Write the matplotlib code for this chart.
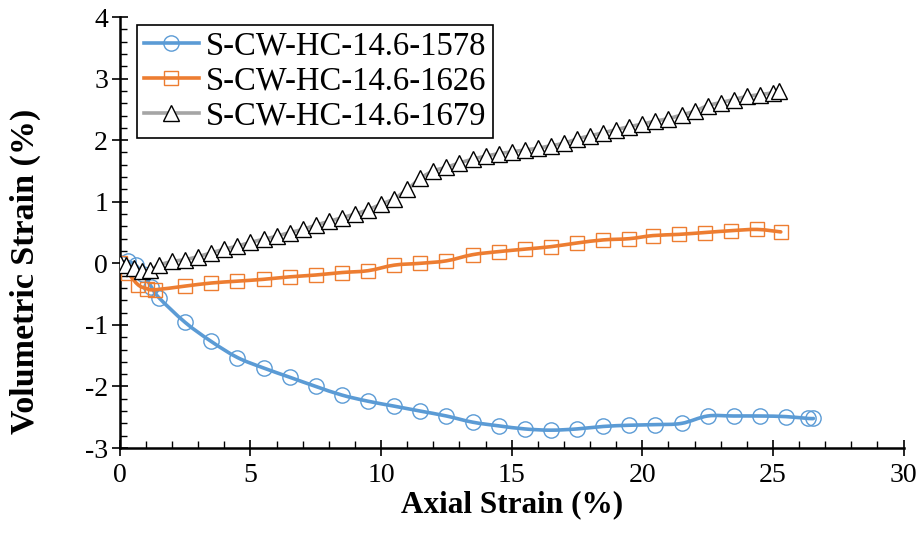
import matplotlib
matplotlib.use("Agg")
import matplotlib.pyplot as plt
import numpy as np
from matplotlib.path import Path
from matplotlib.patches import PathPatch
from matplotlib.lines import Line2D
from matplotlib.ticker import MultipleLocator

plt.rcParams['font.family'] = ['Liberation Serif', 'DejaVu Serif']
plt.rcParams['axes.unicode_minus'] = False

# ---- data ----
labels = ["S-CW-HC-14.6-1578", "S-CW-HC-14.6-1626", "S-CW-HC-14.6-1679"]

x_1578 = [0.0, 0.3, 0.6, 0.9, 1.2, 1.5, 2.5, 3.5, 4.5, 5.5, 6.5, 7.5, 8.5, 9.5, 10.5,
          11.5, 12.5, 13.5, 14.5, 15.5, 16.5, 17.5, 18.5, 19.5, 20.5, 21.5, 22.5,
          23.5, 24.5, 25.5, 26.35, 26.55]
y_1578 = [0.0, 0.03, -0.03, -0.18, -0.38, -0.56, -0.96, -1.27, -1.53, -1.70, -1.85,
          -2.00, -2.14, -2.24, -2.32, -2.40, -2.48, -2.58, -2.64, -2.69, -2.71, -2.69,
          -2.65, -2.63, -2.62, -2.60, -2.48, -2.48, -2.48, -2.49, -2.52, -2.52]

x_1626 = [0.0, 0.32, 0.7, 1.02, 1.34, 2.5, 3.5, 4.5, 5.5, 6.5, 7.5, 8.5, 9.5, 10.5,
          11.5, 12.5, 13.5, 14.5, 15.5, 16.5, 17.5, 18.5, 19.5, 20.4, 21.4, 22.4,
          23.4, 24.4, 25.3]
y_1626 = [0.0, -0.16, -0.35, -0.41, -0.43, -0.37, -0.32, -0.29, -0.26, -0.22, -0.19,
          -0.15, -0.12, -0.03, 0.0, 0.04, 0.14, 0.19, 0.23, 0.27, 0.33, 0.38, 0.40,
          0.45, 0.47, 0.50, 0.53, 0.55, 0.51]

x_1679 = [0.0, 0.25, 0.55, 0.85, 1.15, 1.5, 2.0, 2.5, 3.0, 3.5, 4.0, 4.5, 5.0, 5.5,
          6.0, 6.5, 7.0, 7.5, 8.0, 8.5, 9.0, 9.5, 10.0, 10.5, 11.0, 11.5, 12.0, 12.5,
          13.0, 13.5, 14.0, 14.5, 15.0, 15.5, 16.0, 16.5, 17.0, 17.5, 18.0, 18.5, 19.0,
          19.5, 20.0, 20.5, 21.0, 21.5, 22.0, 22.5, 23.0, 23.5, 24.0, 24.5, 25.0, 25.25]
y_1679 = [0.0, -0.03, -0.08, -0.12, -0.11, -0.03, 0.03, 0.06, 0.11, 0.17, 0.23, 0.28,
          0.34, 0.39, 0.44, 0.50, 0.55, 0.62, 0.68, 0.74, 0.80, 0.87, 0.96, 1.05,
          1.20, 1.38, 1.50, 1.56, 1.63, 1.69, 1.74, 1.78, 1.81, 1.84, 1.87, 1.91, 1.95,
          2.02, 2.07, 2.12, 2.17, 2.22, 2.26, 2.31, 2.35, 2.41, 2.47, 2.56, 2.61,
          2.66, 2.71, 2.74, 2.77, 2.80]

x_ticks = [0, 5, 10, 15, 20, 25, 30]
y_ticks = [-3, -2, -1, 0, 1, 2, 3, 4]


def smooth_path(xs, ys):
    xs = np.asarray(xs, float)
    ys = np.asarray(ys, float)
    n = len(xs)
    verts = [(xs[0], ys[0])]
    codes = [Path.MOVETO]
    for i in range(n - 1):
        i0 = max(i - 1, 0)
        i3 = min(i + 2, n - 1)
        c1 = (xs[i] + (xs[i + 1] - xs[i0]) / 6.0, ys[i] + (ys[i + 1] - ys[i0]) / 6.0)
        c2 = (xs[i + 1] - (xs[i3] - xs[i]) / 6.0, ys[i + 1] - (ys[i3] - ys[i]) / 6.0)
        verts += [c1, c2, (xs[i + 1], ys[i + 1])]
        codes += [Path.CURVE4] * 3
    return Path(verts, codes)


fig = plt.figure(figsize=(9.22, 5.42), dpi=100)
ax = fig.add_axes([0.130, 0.1734, 0.850, 0.7952])

series = [
    (x_1578, y_1578, '#5B9BD5', 'o', 'none', '#5B9BD5', 11),
    (x_1626, y_1626, '#ED7D31', 's', 'none', '#ED7D31', 10.5),
    (x_1679, y_1679, '#A5A5A5', '^', 'white', 'black', 11),
]
handles = []
z = 2
for (xs, ys, col, mk, mfc, mec, ms), lab in zip(series, labels):
    patch = PathPatch(smooth_path(xs, ys), facecolor='none', edgecolor=col,
                      lw=2.6, capstyle='round', joinstyle='round', zorder=z)
    ax.add_patch(patch)
    ax.plot(xs, ys, linestyle='none', marker=mk, ms=ms, mfc=mfc, mec=mec,
            mew=1.0, zorder=z + 0.5)
    handles.append(Line2D([], [], color=col, lw=2.6, marker=mk, ms=ms, mfc=mfc,
                          mec=mec, mew=1.0))
    z += 1

ax.set_xlim(0, 30)
ax.set_ylim(-3, 4)
ax.set_xticks(x_ticks)
ax.set_yticks(y_ticks)
ax.xaxis.set_minor_locator(MultipleLocator(1))
ax.yaxis.set_minor_locator(MultipleLocator(0.2))
ax.tick_params(which='major', direction='inout', length=11, width=1.2,
               labelsize=20, colors='black', pad=5)
ax.tick_params(which='minor', direction='in', length=5, width=1.0)
ax.tick_params(axis='y', which='major', pad=3)
for s in ['top', 'right']:
    ax.spines[s].set_visible(False)
for s in ['left', 'bottom']:
    ax.spines[s].set_linewidth(1.8)

ax.set_xlabel('Axial Strain (%)', fontsize=22.5, fontweight='bold', labelpad=2)
ax.set_ylabel('Volumetric Strain (%)', fontsize=24.5, fontweight='bold')
ax.yaxis.set_label_coords(-0.101, 0.41)

leg = ax.legend(handles, labels, loc='upper left', bbox_to_anchor=(0.022, 0.982),
                fontsize=23.5, frameon=True, fancybox=False, edgecolor='black',
                framealpha=1, handlelength=1.7, handletextpad=0.2,
                labelspacing=0.13, borderpad=0.2, borderaxespad=0.0)
leg.get_frame().set_linewidth(1.2)

fig.savefig('out.png', dpi=100)
